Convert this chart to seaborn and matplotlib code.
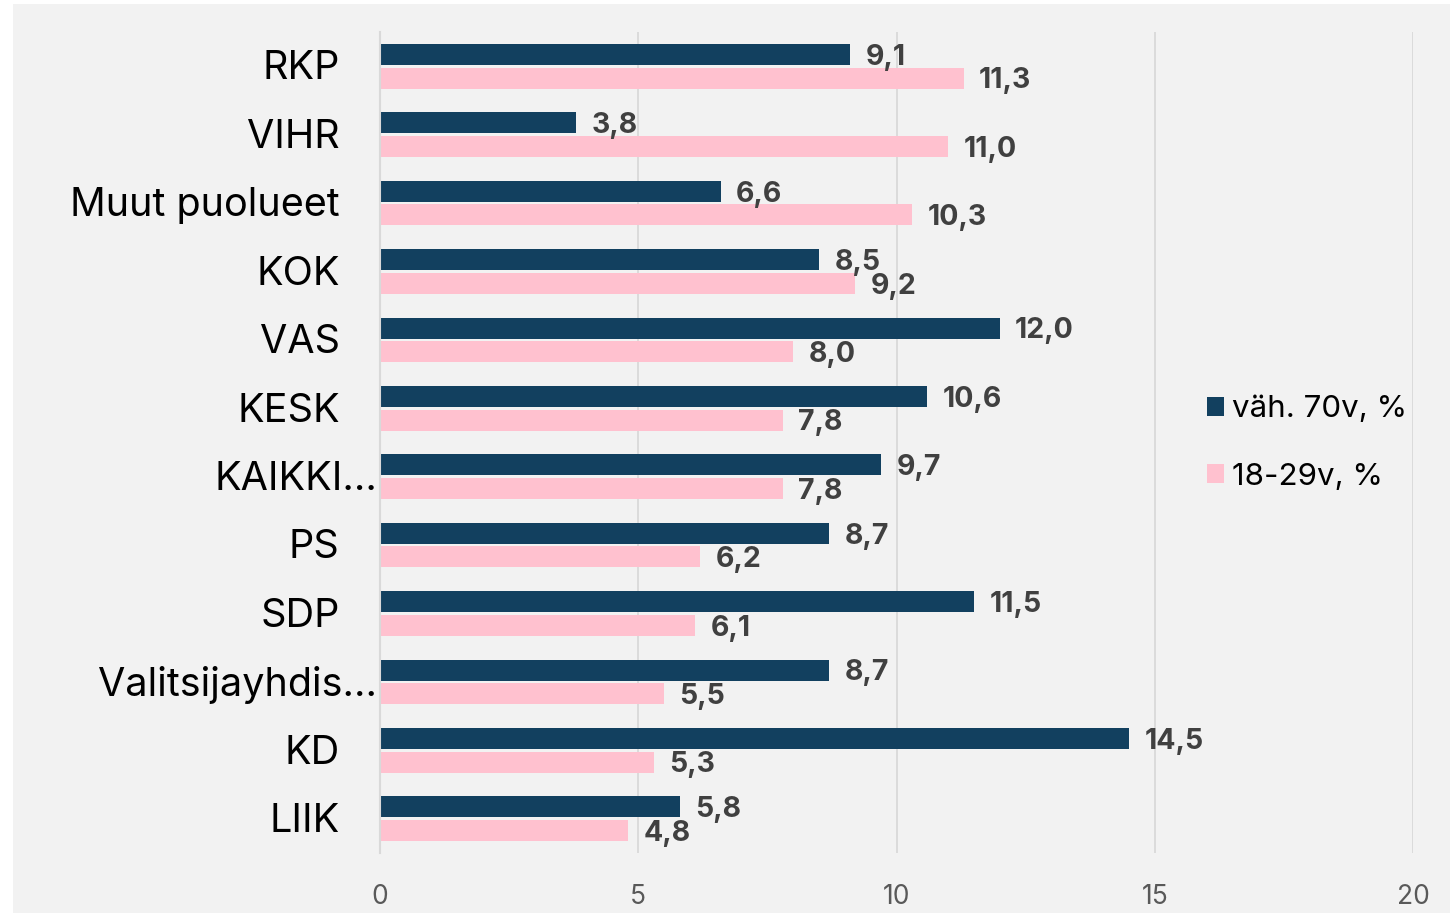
import matplotlib
matplotlib.use("Agg")
import matplotlib.pyplot as plt
import matplotlib.patches as mpatches
import seaborn as sns
import pandas as pd

categories = ["RKP", "VIHR", "Muut puolueet", "KOK", "VAS", "KESK", "KAIKKI...",
              "PS", "SDP", "Valitsijayhdis...", "KD", "LIIK"]
series_names = ["väh. 70v, %", "18-29v, %"]
old_values = [9.1, 3.8, 6.6, 8.5, 12.0, 10.6, 9.7, 8.7, 11.5, 8.7, 14.5, 5.8]
young_values = [11.3, 11.0, 10.3, 9.2, 8.0, 7.8, 7.8, 6.2, 6.1, 5.5, 5.3, 4.8]
x_ticks = [0, 5, 10, 15, 20]
truncated = ["KAIKKI...", "Valitsijayhdis..."]

colors = ["#12405f", "#ffc1cf"]

sns.set_theme(style="white")
plt.rcParams["font.family"] = ["Inter", "DejaVu Sans"]

df = pd.DataFrame({
    "cat": categories * 2,
    "val": old_values + young_values,
    "series": [series_names[0]] * len(categories) + [series_names[1]] * len(categories),
})

fig = plt.figure(figsize=(14.55, 9.17), dpi=100, facecolor="white")
bg = mpatches.Rectangle((13 / 1455, 4 / 917), (1450 - 13) / 1455, (913 - 4) / 917,
                        transform=fig.transFigure, facecolor="#f2f2f2",
                        edgecolor="none", zorder=-10)
fig.patches.append(bg)
ax = fig.add_axes([380 / 1455, 1 - 853 / 917, (1413 - 380) / 1455, (853 - 32) / 917])
ax.set_zorder(1)
ax.set_facecolor("none")

sns.barplot(data=df, x="val", y="cat", hue="series", order=categories,
            hue_order=series_names, palette=colors, orient="h",
            width=0.69, gap=0.11, ax=ax, legend=True, saturation=1, linewidth=0)

ax.set_xlim(0, 20)
ax.set_xticks(x_ticks)
ax.set_xticklabels([str(t) for t in x_ticks], fontsize=19, color="#595959")
ax.tick_params(axis="x", length=0, pad=22)
ax.xaxis.grid(True, color="#d9d9d9", linewidth=1.3)
ax.set_axisbelow(True)
for s in ["top", "right", "bottom"]:
    ax.spines[s].set_visible(False)
ax.spines["left"].set_color("#d9d9d9")
ax.spines["left"].set_linewidth(1.5)
ax.set_xlabel("")
ax.set_ylabel("")
ax.set_yticks(range(len(categories)))
ax.set_yticklabels([])
ax.tick_params(axis="y", length=0)

for i, c in enumerate(categories):
    dx = -2 if c in truncated else -29
    ax.annotate(c, xy=(0, i), xycoords="data", xytext=(dx, -2),
                textcoords="offset points", ha="right", va="center",
                fontsize=28.5, color="#000000", annotation_clip=False)

for cont in ax.containers:
    texts = ax.bar_label(cont, labels=[f"{v:.1f}".replace(".", ",") for v in cont.datavalues],
                         padding=11, fontsize=20.5, fontweight="bold", color="#404040")
    for t in texts:
        t.xyann = (t.xyann[0], -2.0)

leg = ax.legend(loc="center left", bbox_to_anchor=(1179 / 1455, 1 - 443 / 917),
                bbox_transform=fig.transFigure, frameon=False, fontsize=22.5,
                handlelength=0.55, handleheight=0.55, handletextpad=0.25,
                labelspacing=1.25)
for t in leg.get_texts():
    t.set_color("#000000")

fig.savefig("out.png", dpi=100, facecolor="white")
